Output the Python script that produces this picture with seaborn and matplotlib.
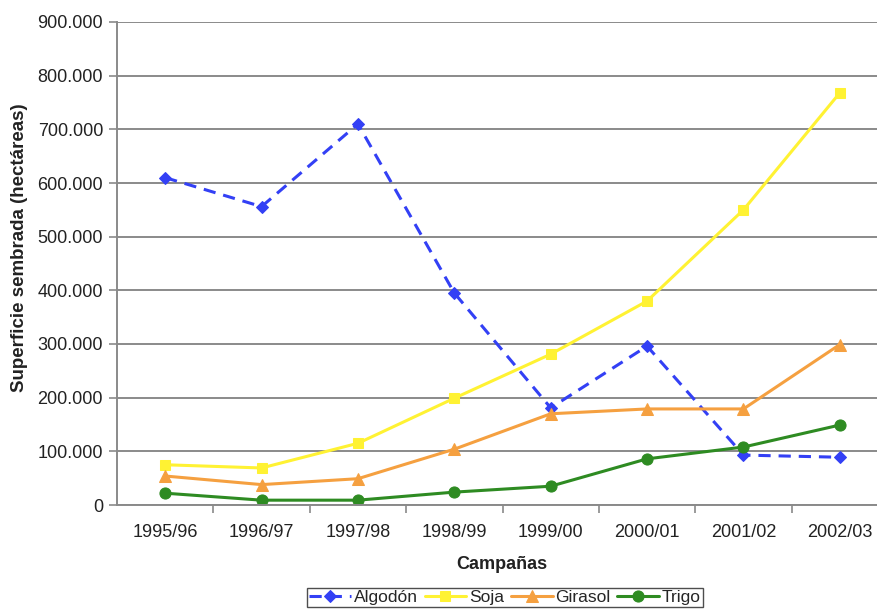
import matplotlib
matplotlib.use("Agg")
import matplotlib.pyplot as plt
from matplotlib.ticker import FuncFormatter, FixedLocator
import seaborn as sns
import pandas as pd

campanas = ["1995/96", "1996/97", "1997/98", "1998/99", "1999/00", "2000/01", "2001/02", "2002/03"]
algodon = [610000, 556000, 710000, 395000, 181000, 296000, 93000, 89000]
soja = [75000, 69000, 115000, 199000, 281000, 380000, 550000, 768000]
girasol = [54000, 38000, 49000, 104000, 170000, 179000, 179000, 299000]
trigo = [22000, 9000, 9000, 24000, 35000, 86000, 108000, 149000]

series = {"Algodón": algodon, "Soja": soja, "Girasol": girasol, "Trigo": trigo}
colors = {"Algodón": "#3340F5", "Soja": "#FFF233", "Girasol": "#F5A040", "Trigo": "#2E8B22"}
markers = {"Algodón": "D", "Soja": "s", "Girasol": "^", "Trigo": "o"}
msizes = {"Algodón": 6, "Soja": 7.5, "Girasol": 8, "Trigo": 8}

df = pd.DataFrame(
    [(c, name, v) for name, vals in series.items() for c, v in zip(campanas, vals)],
    columns=["Campaña", "Cultivo", "Superficie"],
)

sns.set_style("white")
plt.rcParams["font.family"] = ["Liberation Sans", "DejaVu Sans"]

FS = 13
fig = plt.figure(figsize=(8.77, 6.12), dpi=100)
ax = fig.add_axes([117 / 877, 1 - 505 / 612, (888 - 117) / 877, (505 - 22) / 612])

for name in series:
    sub = df[df["Cultivo"] == name]
    ls = (0, (4, 2.6)) if name == "Algodón" else "-"
    sns.lineplot(
        data=sub, x="Campaña", y="Superficie", ax=ax, color=colors[name],
        marker=markers[name], markersize=msizes[name], markeredgecolor=colors[name],
        linewidth=2.2, linestyle=ls, label=name, sort=False,
    )

ax.set_xlim(-0.5, len(campanas) - 0.5)
ax.set_ylim(0, 900000)
ax.set_yticks(range(0, 900001, 100000))
ax.yaxis.set_major_formatter(FuncFormatter(lambda v, p: f"{int(v):,}".replace(",", ".")))
ax.grid(axis="y", color="#8a8a8a", linewidth=1.4)
ax.grid(axis="x", visible=False)
ax.set_axisbelow(True)

for s in ["top", "right"]:
    ax.spines[s].set_visible(False)
for s in ["left", "bottom"]:
    ax.spines[s].set_color("#8a8a8a")
    ax.spines[s].set_linewidth(1.4)

ax.tick_params(axis="y", which="major", length=6, width=1.2, color="#8a8a8a",
               labelsize=FS, labelcolor="#222222", pad=4, left=True)
ax.tick_params(axis="x", which="major", length=0, labelsize=FS,
               labelcolor="#222222", pad=14)
ax.xaxis.set_minor_locator(FixedLocator([i + 0.5 for i in range(len(campanas))]))
ax.tick_params(axis="x", which="minor", length=6, width=1.2, color="#8a8a8a", bottom=True)

ax.set_xlabel("Campañas", fontsize=FS, fontweight="bold", color="#222222")
ax.set_ylabel("Superficie sembrada (hectáreas)", fontsize=FS + 0.5, fontweight="bold",
              color="#222222")
ax.xaxis.set_label_coords((502 - 117) / (888 - 117), -51 / 483)
ax.yaxis.set_label_coords((28 - 117) / (888 - 117), (505 - 248) / 483)

ax.get_legend().remove()
handles, labels = ax.get_legend_handles_labels()
leg = fig.legend(handles, labels, loc="upper center", ncol=4,
                 bbox_to_anchor=(505 / 877, 1 - 588 / 612), frameon=True,
                 fancybox=False, fontsize=12.5, handlelength=2.4,
                 handletextpad=0.15, columnspacing=0.4, borderpad=0.12,
                 borderaxespad=0)
leg.get_frame().set_edgecolor("#222222")
leg.get_frame().set_linewidth(1.0)

fig.savefig("out.png", dpi=100)
